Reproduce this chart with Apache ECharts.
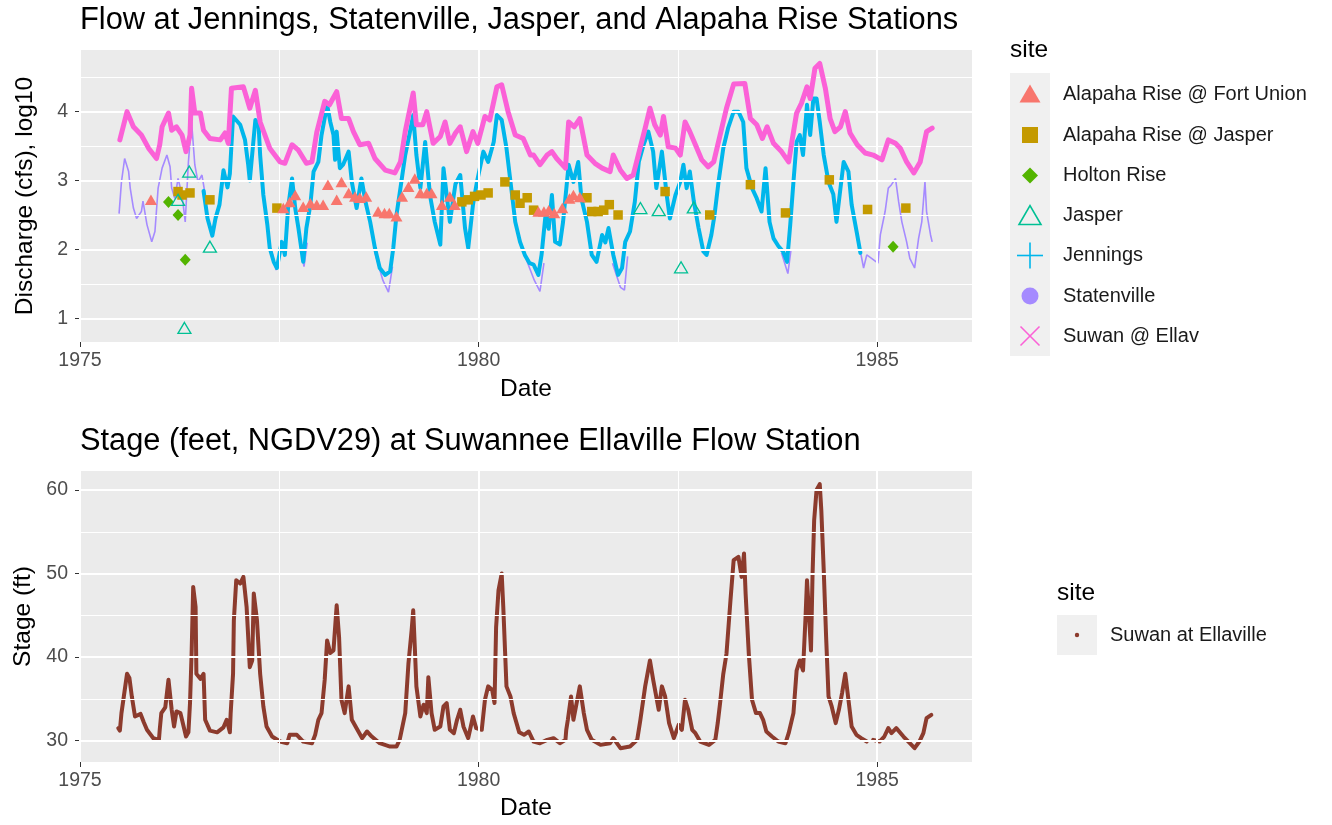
<!DOCTYPE html>
<html><head><meta charset="utf-8">
<script src="https://cdn.jsdelivr.net/npm/echarts@6/dist/echarts.min.js"></script>
<style>html,body{margin:0;padding:0;background:#fff}#c{width:1332px;height:825px}</style>
</head><body><div id="c"></div>
<script>
// ---------------- DATA (decimal years) ----------------
const suwanDates = [1975.50,1975.59,1975.67,1975.77,1975.86,1975.96,1976.00,1976.03,1976.11,1976.15,1976.21,1976.28,1976.33,1976.38,1976.40,1976.44,1976.51,1976.55,1976.63,1976.76,1976.82,1976.86,1976.90,1977.05,1977.13,1977.20,1977.26,1977.38,1977.51,1977.57,1977.66,1977.74,1977.84,1977.91,1977.97,1978.07,1978.13,1978.22,1978.28,1978.37,1978.43,1978.51,1978.62,1978.70,1978.83,1978.95,1979.02,1979.08,1979.18,1979.22,1979.30,1979.35,1979.43,1979.52,1979.58,1979.64,1979.71,1979.77,1979.85,1979.93,1979.99,1980.08,1980.14,1980.23,1980.29,1980.37,1980.46,1980.56,1980.65,1980.69,1980.77,1980.86,1980.92,1980.98,1981.09,1981.13,1981.20,1981.27,1981.36,1981.46,1981.55,1981.65,1981.69,1981.78,1981.86,1981.94,1982.03,1982.09,1982.15,1982.21,1982.28,1982.32,1982.38,1982.47,1982.53,1982.59,1982.65,1982.72,1982.80,1982.88,1982.95,1983.03,1983.11,1983.20,1983.34,1983.41,1983.49,1983.56,1983.62,1983.70,1983.80,1983.89,1983.93,1983.99,1984.05,1984.12,1984.16,1984.22,1984.28,1984.35,1984.41,1984.47,1984.54,1984.60,1984.66,1984.75,1984.85,1984.95,1985.06,1985.14,1985.23,1985.29,1985.37,1985.46,1985.54,1985.58,1985.62,1985.69];
const suwanLog = [3.59,4.00,3.78,3.66,3.47,3.32,3.52,3.78,3.98,3.73,3.78,3.66,3.42,3.66,4.34,3.98,3.98,3.73,3.61,3.59,3.69,3.54,4.34,4.36,4.05,4.31,3.85,3.47,3.27,3.25,3.52,3.44,3.25,3.27,3.70,4.15,4.10,4.29,3.90,3.90,3.71,3.52,3.54,3.32,3.15,3.11,3.27,3.71,4.27,3.81,3.81,4.00,3.54,3.64,3.85,3.54,3.69,3.78,3.42,3.71,3.54,3.93,3.88,4.36,4.39,4.00,3.66,3.61,3.37,3.37,3.23,3.37,3.42,3.32,3.18,3.85,3.78,3.90,3.37,3.25,3.18,3.13,3.37,3.15,3.03,3.08,3.49,3.76,4.05,3.81,3.66,3.93,3.49,3.47,3.37,3.85,3.71,3.52,3.30,3.20,3.27,3.66,4.05,4.40,4.41,3.90,3.81,3.61,3.78,3.54,3.42,3.27,3.56,3.98,4.12,4.36,4.19,4.63,4.70,4.34,3.90,3.71,3.78,4.00,3.69,3.52,3.40,3.37,3.30,3.59,3.54,3.47,3.27,3.11,3.27,3.49,3.71,3.76];

const jenningsDates = [1976.55,1976.60,1976.66,1976.70,1976.75,1976.80,1976.85,1976.88,1976.92,1977.01,1977.07,1977.11,1977.13,1977.20,1977.24,1977.26,1977.30,1977.35,1977.38,1977.43,1977.47,1977.53,1977.57,1977.61,1977.66,1977.70,1977.74,1977.80,1977.84,1977.89,1977.93,1977.99,1978.03,1978.10,1978.14,1978.18,1978.20,1978.22,1978.26,1978.30,1978.37,1978.41,1978.47,1978.53,1978.58,1978.64,1978.70,1978.76,1978.83,1978.89,1978.93,1978.97,1979.02,1979.08,1979.14,1979.18,1979.22,1979.27,1979.33,1979.39,1979.45,1979.52,1979.56,1979.60,1979.64,1979.71,1979.77,1979.83,1979.87,1979.93,1979.98,1980.02,1980.06,1980.12,1980.19,1980.23,1980.29,1980.35,1980.41,1980.46,1980.52,1980.58,1980.64,1980.69,1980.75,1980.79,1980.84,1980.88,1980.92,1980.96,1981.02,1981.06,1981.13,1981.19,1981.25,1981.29,1981.36,1981.42,1981.48,1981.55,1981.59,1981.63,1981.69,1981.75,1981.80,1981.84,1981.90,1981.96,1982.01,1982.07,1982.13,1982.19,1982.23,1982.30,1982.36,1982.40,1982.47,1982.53,1982.57,1982.61,1982.65,1982.70,1982.76,1982.82,1982.86,1982.92,1982.96,1983.01,1983.07,1983.13,1983.20,1983.26,1983.32,1983.36,1983.43,1983.49,1983.55,1983.60,1983.65,1983.70,1983.76,1983.82,1983.87,1983.91,1983.95,1983.99,1984.03,1984.07,1984.12,1984.16,1984.20,1984.24,1984.28,1984.33,1984.39,1984.45,1984.49,1984.54,1984.58,1984.64,1984.68,1984.75,1984.79];
const jenningsLog = [2.85,2.45,2.20,2.45,2.65,3.15,2.90,3.10,3.93,3.81,3.59,3.23,3.00,3.88,3.81,3.37,2.79,2.36,2.02,1.82,1.73,2.11,1.92,2.60,3.03,2.60,2.31,1.82,2.31,2.65,3.13,3.27,3.66,4.10,3.85,3.66,3.30,3.71,3.18,3.23,3.42,2.98,2.60,3.03,2.70,2.40,2.02,1.73,1.63,1.68,2.02,2.50,2.89,3.37,3.71,3.95,3.37,2.89,3.56,2.79,2.40,2.07,3.18,2.79,2.40,2.95,3.08,2.31,2.02,2.65,2.98,3.20,3.42,3.27,3.56,3.95,3.88,3.47,2.89,2.40,2.11,1.92,1.80,1.78,1.63,1.92,2.50,2.30,2.79,2.11,2.07,2.40,3.23,2.98,3.27,2.74,2.40,1.92,1.82,2.21,2.10,2.31,1.92,1.63,1.73,2.11,2.26,2.69,3.27,3.52,3.71,3.42,2.89,3.42,2.79,2.45,2.79,2.98,3.23,2.89,3.13,2.70,2.31,1.97,1.92,2.21,2.50,2.98,3.47,3.76,4.00,4.00,3.85,3.18,2.89,2.74,2.55,3.18,2.40,2.16,2.05,1.97,1.82,2.36,2.98,3.56,3.66,3.37,4.10,3.66,4.19,4.19,3.85,3.37,2.98,2.80,2.40,2.89,3.27,3.13,2.65,2.21,1.95];

// null = gap in the record
const statenDates = [1975.49,1975.52,1975.56,1975.61,1975.63,1975.67,1975.71,1975.77,1975.79,1975.84,1975.90,1975.94,1975.98,1976.03,1976.09,1976.13,1976.15,1976.19,1976.23,1976.28,1976.32,1976.36,1976.40,1976.44,1976.48,1976.53,1976.57,1976.60,
  1977.40,1977.46,1977.52,1977.60,1977.77,1977.81,1977.85,1978.00,1978.70,1978.80,1978.87,1978.92,1979.00,1980.60,1980.70,1980.77,1980.82,1980.90,1981.68,1981.78,1981.83,1981.87,1981.95,1983.80,1983.88,1983.92,1984.00,
  1984.75,1984.79,1984.83,1984.87,1984.93,1985.01,1985.04,1985.10,1985.14,1985.18,1985.23,1985.27,1985.31,1985.37,1985.41,1985.47,1985.52,1985.56,1985.60,1985.62,1985.67,1985.69];
const statenLog = [2.52,2.98,3.32,3.13,2.89,2.60,2.45,2.55,2.70,2.36,2.11,2.26,2.89,3.18,3.37,3.20,2.89,2.74,3.03,2.79,2.40,3.27,3.85,3.23,2.98,3.08,2.80,null,
  2.00,1.70,2.05,null,2.00,1.75,2.10,null,1.95,1.55,1.38,1.75,null,1.85,1.55,1.39,1.80,null,1.80,1.45,1.41,1.90,null,1.95,1.65,2.00,null,
  2.15,1.97,1.73,1.92,1.87,1.80,2.21,2.55,2.89,2.94,3.03,2.69,2.40,2.11,1.87,1.73,2.16,2.40,2.98,2.55,2.21,2.11];

const fortUnionDates = [1975.89,1977.55,1977.63,1977.70,1977.80,1977.89,1977.97,1978.05,1978.11,1978.22,1978.28,1978.37,1978.45,1978.51,1978.59,1978.74,1978.82,1978.88,1978.97,1979.04,1979.12,1979.20,1979.27,1979.35,1979.41,1979.54,1979.64,1979.70,1980.75,1980.82,1980.88,1980.95,1981.05,1981.14,1981.19,1981.27];
const fortUnionLog = [2.72,2.60,2.69,2.79,2.62,2.67,2.65,2.65,2.94,2.72,2.98,2.82,2.77,2.75,2.77,2.55,2.53,2.53,2.48,2.77,2.91,3.03,2.82,2.82,2.82,2.65,2.77,2.65,2.55,2.55,2.57,2.53,2.60,2.74,2.79,2.76];

const alapahaJasperDates = [1976.23,1976.28,1976.38,1976.63,1977.47,1979.79,1979.87,1979.95,1980.03,1980.12,1980.33,1980.46,1980.52,1980.61,1980.69,1981.36,1981.42,1981.50,1981.57,1981.64,1981.75,1982.34,1982.90,1983.41,1983.85,1984.40,1984.88,1985.36];
const alapahaJasperLog = [2.84,2.79,2.82,2.72,2.60,2.69,2.72,2.77,2.79,2.82,2.98,2.79,2.67,2.75,2.57,2.75,2.55,2.55,2.57,2.65,2.50,2.84,2.50,2.94,2.53,3.01,2.58,2.60];

const holtonDates = [1976.11,1976.23,1976.32,1985.20];
const holtonLog = [2.69,2.50,1.85,2.04];

const jasperDates = [1976.23,1976.31,1976.37,1976.63,1982.03,1982.26,1982.54,1982.70];
const jasperLog = [2.72,0.86,3.13,2.04,2.60,2.57,1.74,2.61];

const stageDates = [1975.48,1975.50,1975.52,1975.55,1975.59,1975.62,1975.65,1975.69,1975.76,1975.80,1975.84,1975.92,1975.99,1976.00,1976.02,1976.07,1976.11,1976.15,1976.18,1976.21,1976.26,1976.30,1976.33,1976.36,1976.38,1976.40,1976.42,1976.45,1976.46,1976.51,1976.55,1976.57,1976.63,1976.72,1976.80,1976.84,1976.88,1976.89,1976.92,1976.93,1976.96,1977.01,1977.05,1977.09,1977.13,1977.16,1977.18,1977.22,1977.26,1977.30,1977.34,1977.41,1977.51,1977.60,1977.63,1977.72,1977.80,1977.91,1977.95,1977.99,1978.03,1978.07,1978.10,1978.14,1978.18,1978.22,1978.25,1978.28,1978.32,1978.37,1978.41,1978.48,1978.54,1978.60,1978.66,1978.76,1978.89,1978.97,1979.01,1979.08,1979.12,1979.16,1979.18,1979.20,1979.22,1979.27,1979.31,1979.35,1979.37,1979.41,1979.45,1979.52,1979.56,1979.60,1979.64,1979.69,1979.73,1979.77,1979.81,1979.87,1979.93,1979.97,1980.04,1980.08,1980.12,1980.17,1980.20,1980.22,1980.25,1980.29,1980.31,1980.35,1980.40,1980.44,1980.51,1980.57,1980.63,1980.69,1980.77,1980.86,1980.94,1981.02,1981.09,1981.10,1981.12,1981.16,1981.19,1981.23,1981.27,1981.32,1981.36,1981.42,1981.53,1981.65,1981.69,1981.78,1981.90,1981.99,1982.03,1982.09,1982.15,1982.19,1982.26,1982.30,1982.34,1982.39,1982.45,1982.51,1982.55,1982.59,1982.63,1982.68,1982.72,1982.78,1982.89,1982.97,1983.00,1983.03,1983.07,1983.11,1983.16,1983.20,1983.26,1983.30,1983.33,1983.35,1983.39,1983.43,1983.48,1983.53,1983.57,1983.61,1983.68,1983.76,1983.85,1983.89,1983.95,1983.99,1984.03,1984.07,1984.10,1984.12,1984.14,1984.17,1984.19,1984.21,1984.24,1984.28,1984.30,1984.33,1984.36,1984.39,1984.43,1984.48,1984.52,1984.56,1984.60,1984.64,1984.68,1984.74,1984.80,1984.87,1984.91,1984.95,1985.03,1985.09,1985.14,1985.18,1985.24,1985.33,1985.41,1985.47,1985.53,1985.58,1985.62,1985.68];
const stageFt = [31.5,31.2,33.3,35.3,38.0,37.5,35.3,32.9,33.2,32.2,31.3,30.3,30.1,31.3,33.3,34.0,37.3,33.7,31.7,33.5,33.3,31.7,30.5,31.0,34.5,40.4,48.4,46.0,38.0,37.4,38.0,32.5,31.2,31.0,31.6,32.5,31.0,33.3,38.0,44.4,49.2,48.8,49.6,46.0,38.8,39.6,47.6,44.4,38.0,34.1,31.7,30.5,29.9,29.7,30.7,30.7,29.9,29.7,30.7,32.5,33.3,37.3,42.0,40.5,40.8,46.2,42.4,34.9,33.3,36.5,32.5,31.3,30.3,31.1,30.5,29.7,29.3,29.3,30.1,33.3,39.2,43.2,45.6,41.2,36.5,32.9,34.3,33.3,37.6,33.3,31.3,31.7,34.1,34.5,31.3,30.9,32.5,33.7,31.7,30.3,32.9,31.5,31.3,34.9,36.5,36.1,34.5,43.6,48.0,50.0,46.0,36.5,35.3,33.3,31.0,30.7,31.1,29.9,29.7,30.1,30.3,29.7,30.1,31.3,32.5,35.3,32.5,34.5,36.5,33.3,31.3,30.1,29.5,29.7,30.3,29.1,29.3,30.1,32.5,36.5,39.6,37.3,33.7,36.5,35.3,32.1,30.3,31.9,31.3,34.9,33.7,31.3,30.9,29.9,29.5,30.1,32.1,34.5,38.0,40.4,46.8,51.6,52.0,49.6,52.4,47.6,40.4,34.9,33.3,33.3,32.5,31.1,30.5,29.9,29.7,30.9,33.3,38.4,39.6,38.4,44.4,49.2,46.0,40.8,50.0,56.4,60.0,60.7,57.5,50.4,42.4,35.3,34.1,32.1,33.7,35.7,38.0,34.9,31.7,30.7,30.3,29.9,null,30.1,29.9,30.5,31.5,30.9,31.5,30.5,29.7,29.1,29.9,30.9,32.7,33.1];

// tick / grid values
const xTicks = [1975, 1980, 1985];
const xMinor = [1977.5, 1982.5];
const topYTicks = [1, 2, 3, 4];
const topYMinor = [1.5, 2.5, 3.5, 4.5];
const botYTicks = [30, 40, 50, 60];
const botYMinor = [35, 45, 55];

const topLegendLabels = ['Alapaha Rise @ Fort Union','Alapaha Rise @ Jasper','Holton Rise','Jasper','Jennings','Statenville','Suwan @ Ellav'];
const botLegendLabels = ['Suwan at Ellaville'];

// ---------------- BUILD ----------------
const FONT = "'Liberation Sans', Arial, Helvetica, sans-serif";
const C = {fort:'#F8766D', apj:'#C49A00', holton:'#53B400', jasper:'#00C094', jen:'#00B6EB', stat:'#A58AFF', suw:'#FB61D7', stage:'#8C3B2D'};
function pairs(d, v){ return d.map((x,i)=> v[i]==null ? [x,'-'] : [x, v[i]]); }

function gridLines(xs, xm, ys, ym){
  const maj = {color:'#FFFFFF', width:2, type:'solid'}, min = {color:'#FFFFFF', width:1, type:'solid'};
  return [].concat(
    ym.map(v=>({yAxis:v, lineStyle:min})), xm.map(v=>({xAxis:v, lineStyle:min})),
    ys.map(v=>({yAxis:v, lineStyle:maj})), xs.map(v=>({xAxis:v, lineStyle:maj})));
}
function xAx(gi, gap){
  return {gridIndex:gi, type:'value', min:1975, max:1986.19,
    axisLine:{show:false}, splitLine:{show:false},
    axisTick:{show:true, length:5, customValues:xTicks, lineStyle:{color:'#333', width:1}},
    axisLabel:{customValues:xTicks, formatter:(v)=>String(Math.round(v)), color:'#4D4D4D', fontSize:19.5, fontFamily:FONT, margin:9},
    name:'Date', nameLocation:'middle', nameGap:gap,
    nameTextStyle:{fontSize:24.5, color:'#000', fontFamily:FONT}};
}
function yAx(gi, min, max, ticks, name){
  return {gridIndex:gi, type:'value', min:min, max:max,
    axisLine:{show:false}, splitLine:{show:false},
    axisTick:{show:true, length:5, customValues:ticks, lineStyle:{color:'#333', width:1}},
    axisLabel:{customValues:ticks, formatter:(v)=>String(Math.round(v)), color:'#4D4D4D', fontSize:19.5, fontFamily:FONT, margin:12},
    name:name, nameLocation:'middle', nameGap:42,
    nameTextStyle:{fontSize:24.5, color:'#000', fontFamily:FONT}};
}

const legendTopY = [94.5, 135, 175.5, 215.5, 255.5, 296, 336];
const g = [];
g.push({type:'text', x:1010, y:50, style:{text:'site', fontSize:24.5, fontFamily:FONT, fill:'#000', align:'left', verticalAlign:'middle'}});
g.push({type:'rect', shape:{x:1010, y:73, width:40, height:283}, style:{fill:'#F0F0F0'}});
const cx = 1030, ly = legendTopY;
g.push({type:'polygon', shape:{points:[[cx-10.5,ly[0]+8],[cx+10.5,ly[0]+8],[cx,ly[0]-10]]}, style:{fill:C.fort}});
g.push({type:'rect', shape:{x:cx-8, y:ly[1]-8, width:16, height:16}, style:{fill:C.apj}});
g.push({type:'polygon', shape:{points:[[cx,ly[2]-8],[cx+8,ly[2]],[cx,ly[2]+8],[cx-8,ly[2]]]}, style:{fill:C.holton}});
g.push({type:'polygon', shape:{points:[[cx-11,ly[3]+9],[cx+11,ly[3]+9],[cx,ly[3]-10]]}, style:{fill:'none', stroke:C.jasper, lineWidth:1.6}});
g.push({type:'line', shape:{x1:cx-13, y1:ly[4], x2:cx+13, y2:ly[4]}, style:{stroke:C.jen, lineWidth:1.6}});
g.push({type:'line', shape:{x1:cx, y1:ly[4]-13, x2:cx, y2:ly[4]+13}, style:{stroke:C.jen, lineWidth:1.6}});
g.push({type:'circle', shape:{cx:cx, cy:ly[5], r:8.5}, style:{fill:C.stat}});
g.push({type:'line', shape:{x1:cx-9.5, y1:ly[6]-9.5, x2:cx+9.5, y2:ly[6]+9.5}, style:{stroke:C.suw, lineWidth:1.6}});
g.push({type:'line', shape:{x1:cx-9.5, y1:ly[6]+9.5, x2:cx+9.5, y2:ly[6]-9.5}, style:{stroke:C.suw, lineWidth:1.6}});
topLegendLabels.forEach((t,i)=>g.push({type:'text', x:1063, y:ly[i], style:{text:t, fontSize:20, fontFamily:FONT, fill:'#1A1A1A', align:'left', verticalAlign:'middle'}}));
g.push({type:'text', x:1057, y:593, style:{text:'site', fontSize:24.5, fontFamily:FONT, fill:'#000', align:'left', verticalAlign:'middle'}});
g.push({type:'rect', shape:{x:1057, y:615, width:40, height:40}, style:{fill:'#F0F0F0'}});
g.push({type:'circle', shape:{cx:1077, cy:635, r:2.2}, style:{fill:C.stage}});
g.push({type:'text', x:1110, y:635, style:{text:botLegendLabels[0], fontSize:20, fontFamily:FONT, fill:'#1A1A1A', align:'left', verticalAlign:'middle'}});

const option = {
  animation:false,
  backgroundColor:'#FFFFFF',
  textStyle:{fontFamily:FONT},
  title:[
    {text:'Flow at Jennings, Statenville, Jasper, and Alapaha Rise Stations', left:80, top:4, padding:0,
     textStyle:{fontSize:30.8, fontWeight:'normal', color:'#000', fontFamily:FONT, lineHeight:34}},
    {text:'Stage (feet, NGDV29) at Suwannee Ellaville Flow Station', left:80, top:425, padding:0,
     textStyle:{fontSize:30.8, fontWeight:'normal', color:'#000', fontFamily:FONT, lineHeight:34}}
  ],
  grid:[
    {left:80, top:50, width:892, height:292, show:true, backgroundColor:'#EBEBEB', borderWidth:0},
    {left:80, top:471, width:892, height:291, show:true, backgroundColor:'#EBEBEB', borderWidth:0}
  ],
  xAxis:[xAx(0, 35), xAx(1, 34)],
  yAxis:[yAx(0, 0.656, 4.895, topYTicks, 'Discharge (cfs), log10'), yAx(1, 27.45, 62.27, botYTicks, 'Stage (ft)')],
  graphic:{elements:g},
  series:[
    {name:'grid0', type:'line', xAxisIndex:0, yAxisIndex:0, data:[], z:1, silent:true,
     markLine:{silent:true, symbol:['none','none'], label:{show:false}, animation:false, data:gridLines(xTicks, xMinor, topYTicks, topYMinor)}},
    {name:'grid1', type:'line', xAxisIndex:1, yAxisIndex:1, data:[], z:1, silent:true,
     markLine:{silent:true, symbol:['none','none'], label:{show:false}, animation:false, data:gridLines(xTicks, xMinor, botYTicks, botYMinor)}},
    {name:'Statenville', type:'line', xAxisIndex:0, yAxisIndex:0, data:pairs(statenDates, statenLog), showSymbol:false, z:3,
     lineStyle:{color:C.stat, width:1.6}, itemStyle:{color:C.stat}, connectNulls:false},
    {name:'Jennings', type:'line', xAxisIndex:0, yAxisIndex:0, data:pairs(jenningsDates, jenningsLog), showSymbol:false, z:4,
     lineStyle:{color:C.jen, width:4, cap:'round', join:'round'}, itemStyle:{color:C.jen}},
    {name:'Suwan @ Ellav', type:'line', xAxisIndex:0, yAxisIndex:0, data:pairs(suwanDates, suwanLog), showSymbol:false, z:5,
     lineStyle:{color:C.suw, width:5, cap:'round', join:'round'}, itemStyle:{color:C.suw}},
    {name:'Alapaha Rise @ Jasper', type:'scatter', xAxisIndex:0, yAxisIndex:0, data:pairs(alapahaJasperDates, alapahaJasperLog), z:6,
     symbol:'rect', symbolSize:9.5, itemStyle:{color:C.apj, opacity:1}},
    {name:'Alapaha Rise @ Fort Union', type:'scatter', xAxisIndex:0, yAxisIndex:0, data:pairs(fortUnionDates, fortUnionLog), z:7,
     symbol:'triangle', symbolSize:[12,10.5], itemStyle:{color:C.fort, opacity:1}},
    {name:'Holton Rise', type:'scatter', xAxisIndex:0, yAxisIndex:0, data:pairs(holtonDates, holtonLog), z:7,
     symbol:'diamond', symbolSize:[11,12], itemStyle:{color:C.holton, opacity:1}},
    {name:'Jasper', type:'scatter', xAxisIndex:0, yAxisIndex:0, data:pairs(jasperDates, jasperLog), z:8,
     symbol:'triangle', symbolSize:[13,11], itemStyle:{color:'rgba(0,0,0,0)', borderColor:C.jasper, borderWidth:1.3, opacity:1}},
    {name:'Suwan at Ellaville', type:'line', xAxisIndex:1, yAxisIndex:1, data:pairs(stageDates, stageFt), showSymbol:false, z:3,
     lineStyle:{color:C.stage, width:4, cap:'round', join:'round'}, itemStyle:{color:C.stage}, connectNulls:false}
  ]
};
const chart = echarts.init(document.getElementById('c'), null, {renderer:'canvas'});
chart.setOption(option);
</script></body></html>
